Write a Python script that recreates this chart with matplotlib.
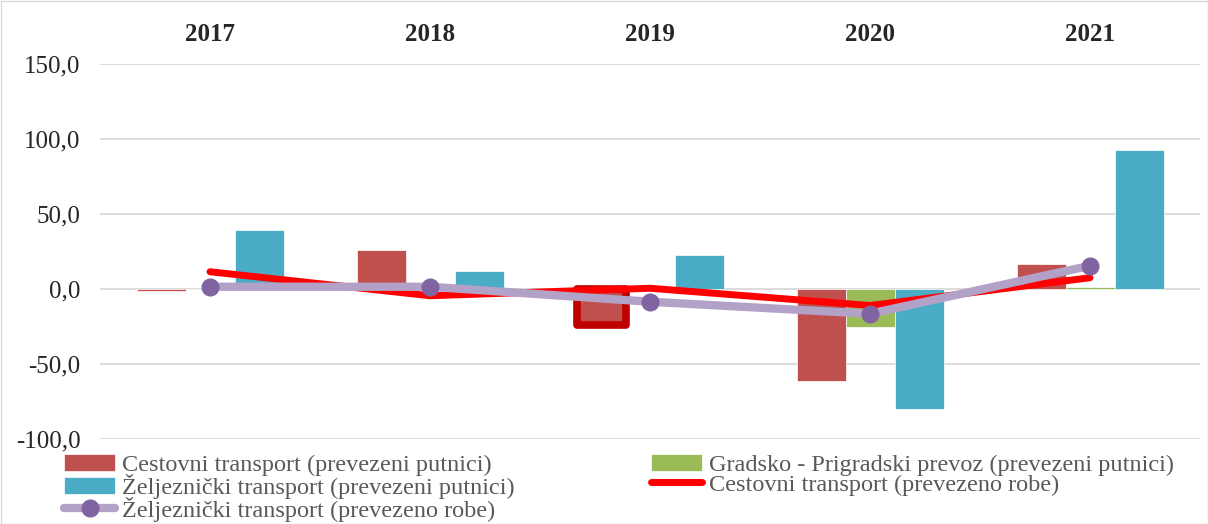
import matplotlib.pyplot as plt
import numpy as np
from matplotlib.patches import Rectangle

plt.rcParams['font.family'] = ['Liberation Serif', 'DejaVu Serif']

# Data
years = ['2017', '2018', '2019', '2020', '2021']
cestovni_putnici = [-1.0, 26.0, -24.0, -61.0, 16.5]
gradsko_putnici = [0.3, 0.3, 0.5, -25.5, 1.5]
zeljeznicki_putnici = [39.5, 12.0, 22.5, -80.0, 92.5]
cestovni_robe = [11.5, -4.5, 0.5, -11.0, 7.5]
zeljeznicki_robe = [1.5, 1.5, -8.5, -16.5, 15.5]

labels = ['Cestovni transport (prevezeni putnici)',
          'Gradsko - Prigradski prevoz (prevezeni putnici)',
          'Željeznički transport (prevezeni putnici)',
          'Cestovni transport (prevezeno robe)',
          'Željeznički transport (prevezeno robe)']

fig = plt.figure(figsize=(12.08, 5.24), dpi=100)
ax = fig.add_axes([100 / 1208, 1 - 439 / 524, 1100 / 1208, 375 / 524])

x = np.arange(len(years))
w = 49 / 220

b1 = ax.bar(x - w, cestovni_putnici, w, color='#c0504d', edgecolor='white', linewidth=0.5, zorder=2)
b2 = ax.bar(x, gradsko_putnici, w, color='#9bbb59', edgecolor='white', linewidth=0.5, zorder=2)
b3 = ax.bar(x + w, zeljeznicki_putnici, w, color='#4bacc6', edgecolor='white', linewidth=0.5, zorder=2)

# highlighted point (2019, Cestovni putnici)
b1[2].set_edgecolor('#c00000')
b1[2].set_linewidth(5.5)
b1[2].set_joinstyle('round')

l1, = ax.plot(x, cestovni_robe, color='#ff0000', lw=5, solid_capstyle='round',
              solid_joinstyle='round', zorder=3)
l2, = ax.plot(x, zeljeznicki_robe, color='#b3a2c7', lw=6, marker='o', markersize=12,
              markerfacecolor='#8064a2', markeredgecolor='#8064a2',
              solid_capstyle='round', zorder=4)

ax.set_xlim(-0.5, 4.5)
ax.set_ylim(-100, 150)
ax.set_yticks(np.arange(-100, 151, 50))
ax.set_yticklabels([f'{v:.1f}'.replace('.', ',') for v in np.arange(-100, 151, 50)],
                   fontsize=18, color='#262626')
ax.yaxis.grid(True, color='#d9d9d9', lw=1.3, zorder=0)
ax.set_axisbelow(True)
ax.xaxis.tick_top()
ax.set_xticks(x)
ax.set_xticklabels(years, fontsize=18, fontweight='bold', color='#262626')
ax.tick_params(length=0)
ax.tick_params(axis='x', pad=13)
ax.tick_params(axis='y', pad=14)
for s in ax.spines.values():
    s.set_visible(False)

# legend: Excel fills row-wise, matplotlib column-wise
handles = [b1, b3, l2, b2, l1]
leg_labels = [labels[0], labels[2], labels[4], labels[1], labels[3]]
leg = fig.legend(handles, leg_labels, ncol=2, loc='upper left',
                 bbox_to_anchor=(64 / 1208, 1 - 454 / 524), frameon=False,
                 fontsize=17.5, labelcolor='#595959', handlelength=2.1,
                 handletextpad=0.3, labelspacing=-0.09, columnspacing=5.6,
                 borderaxespad=0, borderpad=0)

# chart border
fig.patches.append(Rectangle((0.5 / 1208, 0.5 / 524), 1 - 1 / 1208, 1 - 1 / 524,
                             transform=fig.transFigure, fill=False,
                             edgecolor='#d9d9d9', lw=1))

fig.savefig('out.png', dpi=100)
